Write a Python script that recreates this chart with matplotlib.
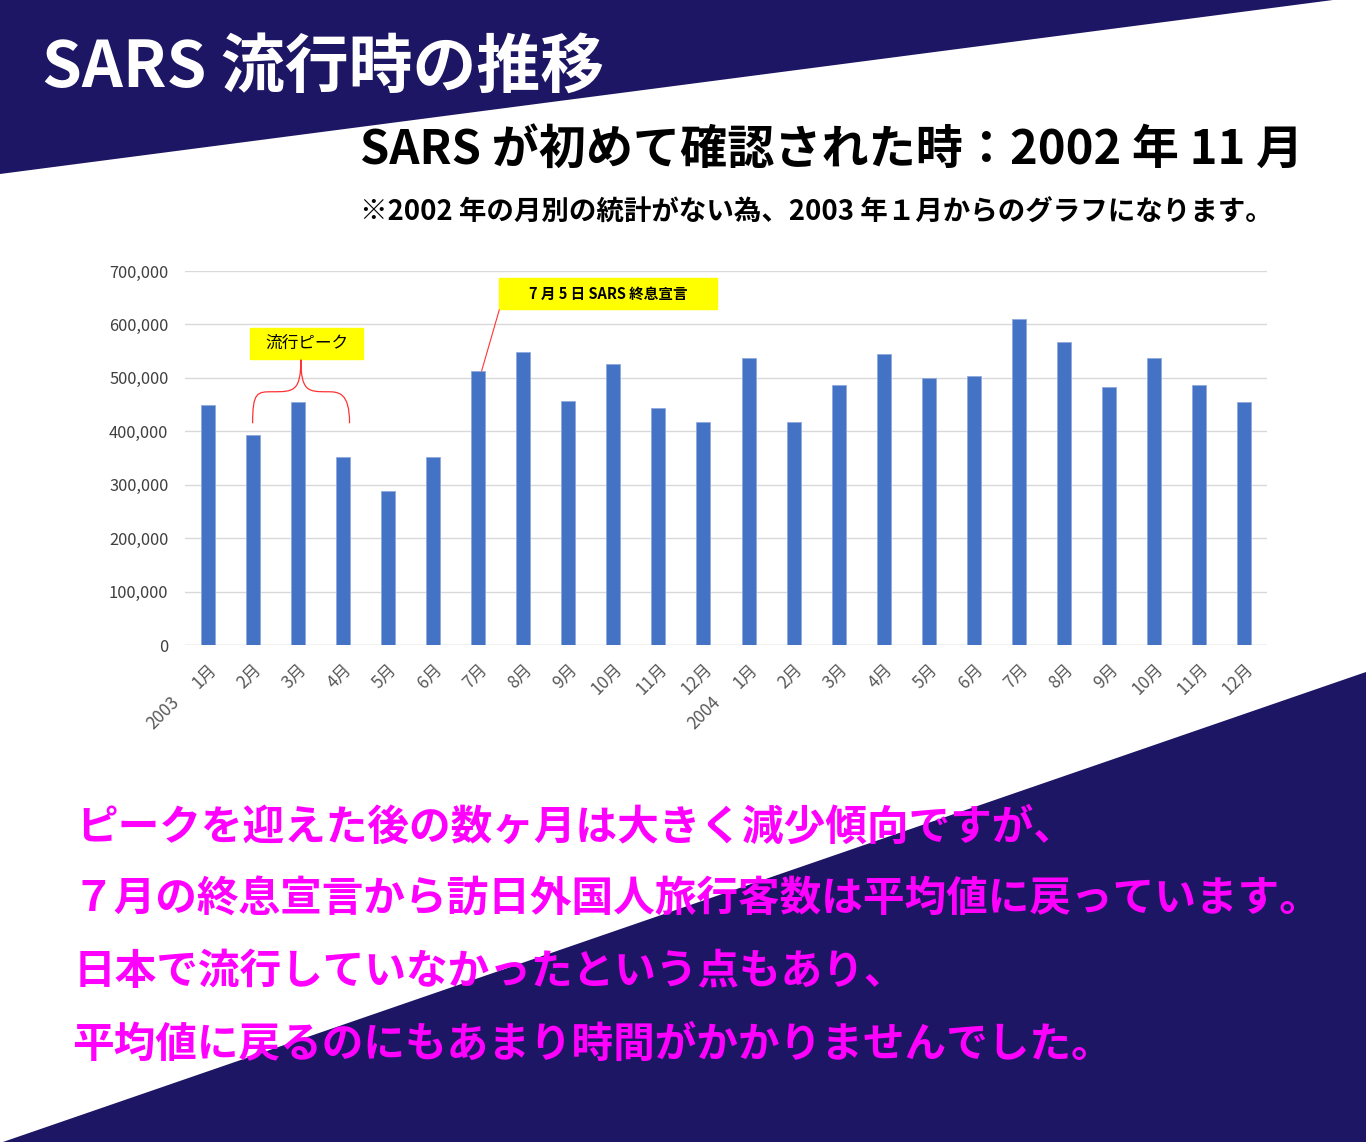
import matplotlib
matplotlib.use('Agg')
import matplotlib.pyplot as plt
from matplotlib.patches import Polygon, Rectangle
from matplotlib.path import Path
from matplotlib.patches import PathPatch
import numpy as np

plt.rcParams['font.family'] = ['Noto Sans CJK JP', 'DejaVu Sans']

# 訪日外国人旅行者数（月別）
months = ['1月', '2月', '3月', '4月', '5月', '6月', '7月', '8月', '9月', '10月', '11月', '12月',
          '1月', '2月', '3月', '4月', '5月', '6月', '7月', '8月', '9月', '10月', '11月', '12月']
years = ['2003', '2004']
visitors = [449000, 393000, 454000, 352000, 288000, 352000, 513000, 548000, 457000, 526000, 444000, 417000,
            537000, 417000, 487000, 545000, 500000, 503000, 610000, 567000, 482000, 537000, 487000, 454000]
yticks = [0, 100000, 200000, 300000, 400000, 500000, 600000, 700000]

title = 'SARS 流行時の推移'
subtitle = 'SARS が初めて確認された時：2002 年 11 月'
note = '※2002 年の月別の統計がない為、2003 年１月からのグラフになります。'
comment = ['ピークを迎えた後の数ヶ月は大きく減少傾向ですが、',
           '７月の終息宣言から訪日外国人旅行客数は平均値に戻っています。',
           '日本で流行していなかったという点もあり、',
           '平均値に戻るのにもあまり時間がかかりませんでした。']

W, H = 1366, 1142
navy = '#1d1664'
fig = plt.figure(figsize=(W / 100, H / 100), dpi=100)

# background layer in pixel coords
bg = fig.add_axes([0, 0, 1, 1])
bg.set_xlim(0, W)
bg.set_ylim(H, 0)
bg.axis('off')
bg.add_patch(Polygon([(0, 0), (1333, 0), (0, 174)], closed=True, color=navy, lw=0))
bg.add_patch(Polygon([(0, 1143), (W, 672), (W, H)], closed=True, color=navy, lw=0))

bg.text(42, 68, title, color='white', fontsize=46, fontweight='bold', va='center', ha='left')
bg.text(360, 150, subtitle, color='black', fontsize=33.9, fontweight='bold', va='center', ha='left')
bg.text(360, 213, note, color='black', fontsize=19.8, fontweight='bold', va='center', ha='left')

line_y = [828, 900, 972, 1045]
line_x = [76, 72, 74, 72]
for s, lx, ly in zip(comment, line_x, line_y):
    bg.text(lx, ly, s, color='#ff00ff', fontsize=30, fontweight='bold', va='center', ha='left')

# chart
ax = fig.add_axes([185 / W, 1 - 645 / H, (1267 - 185) / W, (645 - 271) / H])
x = np.arange(len(visitors))
ax.bar(x, visitors, width=0.31, color='#4472c4', edgecolor='#8faadc', linewidth=0.6, zorder=3)
ax.set_xlim(-0.5, len(visitors) - 0.5)
ax.set_ylim(0, 700000)
ax.set_yticks(yticks)
ax.set_yticklabels([f'{v:,}' for v in yticks], fontsize=11.8, color='#404040')
ax.grid(axis='y', color='#d9d9d9', linewidth=1, zorder=0)
for sp in ax.spines.values():
    sp.set_visible(False)
ax.tick_params(axis='both', length=0)
ax.tick_params(axis='y', pad=12)
ax.set_xticks(x)
ax.set_xticklabels(months, rotation=45, ha='right', va='top', rotation_mode='anchor',
                   fontsize=12.3, color='#595959')
ax.tick_params(axis='x', pad=11)
ax.axhline(0, color='#d9d9d9', lw=1, zorder=2)

# year labels under first month of each year
for i, yr in enumerate(years):
    ax.annotate(yr, xy=(i * 12, 0), xycoords='data', xytext=(-27, -35), textcoords='offset points',
                rotation=45, ha='right', va='top', rotation_mode='anchor',
                fontsize=12.3, color='#595959', annotation_clip=False)

# 流行ピーク callout with brace
ax.add_patch(Rectangle((0.95, 535000), 2.5, 58000, color='#ffff00', zorder=4, clip_on=False))
ax.text(2.2, 564000, '流行ピーク', fontsize=12, color='black', ha='center', va='center', zorder=5)
verts = [(1.0, 415000), (1.0, 474000), (1.1, 474000), (1.45, 474000),
         (1.9, 474000), (2.07, 474000), (2.07, 534000),
         (2.07, 474000), (2.24, 474000), (2.65, 474000),
         (2.9, 474000), (3.15, 474000), (3.15, 415000)]
codes = [Path.MOVETO, Path.CURVE4, Path.CURVE4, Path.CURVE4,
         Path.CURVE4, Path.CURVE4, Path.CURVE4,
         Path.CURVE4, Path.CURVE4, Path.CURVE4,
         Path.CURVE4, Path.CURVE4, Path.CURVE4]
ax.add_patch(PathPatch(Path(verts, codes), fill=False, edgecolor='#ff3333', lw=0.9, zorder=4, clip_on=False))

# 終息宣言 callout
ax.add_patch(Rectangle((6.47, 629000), 4.83, 58000, color='#ffff00', zorder=4, clip_on=False))
ax.text(8.88, 658000, '7 月 5 日 SARS 終息宣言', fontsize=10.5, fontweight='bold', color='black',
        ha='center', va='center', zorder=5)
ax.plot([6.47, 6.08], [627000, visitors[6]], color='#ff3333', lw=0.8, zorder=4, clip_on=False)

fig.savefig('out.png', dpi=100)
